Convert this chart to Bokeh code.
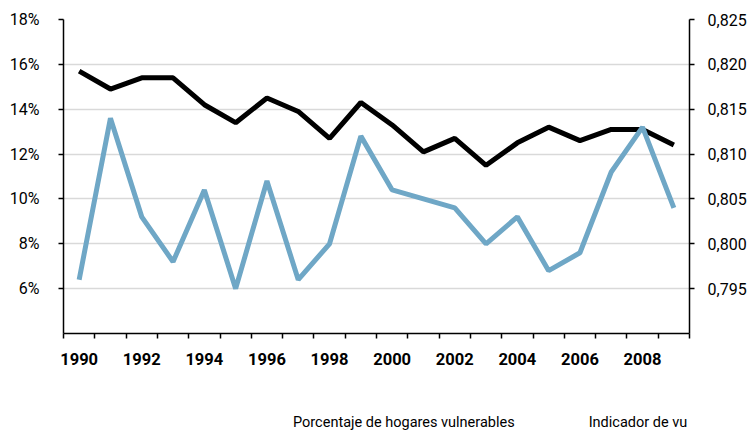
from bokeh.plotting import figure
from bokeh.layouts import column
from bokeh.models import (Range1d, LinearAxis, FixedTicker, CustomJSTickFormatter,
                          Legend, LegendItem)
from bokeh.embed import file_html
from bokeh.resources import INLINE

years = list(range(1990, 2010))
hogares_pct = [15.7, 14.9, 15.4, 15.4, 14.2, 13.4, 14.5, 13.9, 12.7, 14.3,
               13.3, 12.1, 12.7, 11.5, 12.5, 13.2, 12.6, 13.1, 13.1, 12.4]
indicador = [0.796, 0.814, 0.803, 0.798, 0.806, 0.795, 0.807, 0.796, 0.800, 0.812,
             0.806, 0.805, 0.804, 0.800, 0.803, 0.797, 0.799, 0.808, 0.813, 0.804]
left_ticks = [6, 8, 10, 12, 14, 16, 18]
right_ticks = [0.795, 0.800, 0.805, 0.810, 0.815, 0.820, 0.825]
year_labels = [y for y in years if y % 2 == 0]
series_names = ["Porcentaje de hogares vulnerables", "Indicador de vulnerabilidad"]

FONT = "Roboto"
BLUE = "#6fa7c6"

p = figure(width=747, height=375, frame_width=626, frame_height=314,
           output_backend="svg", toolbar_location=None,
           x_range=Range1d(years[0] - 0.5, years[-1] + 0.5),
           y_range=Range1d(4.0, 18.0),
           min_border_left=63, min_border_right=58, min_border_top=19,
           min_border_bottom=42)
p.outline_line_color = None
p.background_fill_color = "white"
p.extra_y_ranges = {"vi": Range1d(0.790, 0.825)}

xa = p.xaxis[0]
xa.ticker = FixedTicker(ticks=year_labels,
                        minor_ticks=[y - 0.5 for y in years] + [years[-1] + 0.5])
xa.major_tick_line_color = None
xa.major_tick_out = 0
xa.major_tick_in = 0
xa.minor_tick_line_color = "black"
xa.minor_tick_line_width = 1.5
xa.minor_tick_out = 5
xa.minor_tick_in = 0
xa.axis_line_color = "black"
xa.axis_line_width = 1.5
xa.major_label_standoff = 14
xa.major_label_text_font = FONT
xa.major_label_text_font_style = "bold"
xa.major_label_text_font_size = "16.5px"
xa.major_label_text_color = "black"

ya = p.yaxis[0]
ya.ticker = FixedTicker(ticks=left_ticks)
ya.formatter = CustomJSTickFormatter(code="return tick.toFixed(0) + '%';")
ya.minor_tick_line_color = None
ya.major_tick_out = 5
ya.major_tick_in = 0
ya.major_tick_line_width = 1.5
ya.axis_line_width = 1.5
ya.major_label_standoff = 19
ya.major_label_text_font = FONT
ya.major_label_text_font_size = "16px"
ya.major_label_text_color = "black"

ra = LinearAxis(y_range_name="vi", ticker=FixedTicker(ticks=right_ticks),
                formatter=CustomJSTickFormatter(code="return tick.toFixed(3).replace('.', ',');"))
ra.minor_tick_line_color = None
ra.major_tick_out = 5
ra.major_tick_in = 0
ra.major_tick_line_width = 1.5
ra.axis_line_width = 1.5
ra.major_label_standoff = 13
ra.major_label_text_font = FONT
ra.major_label_text_font_size = "16px"
ra.major_label_text_color = "black"
p.add_layout(ra, "right")

p.xgrid.grid_line_color = None
p.ygrid.ticker = FixedTicker(ticks=left_ticks)
p.ygrid.grid_line_color = "#d9d9d9"
p.ygrid.grid_line_width = 1.5

p.line(years, hogares_pct, line_color="black", line_width=5)
p.line(years, indicador, y_range_name="vi", line_color=BLUE, line_width=5)

# legend strip below the chart
lg = figure(width=747, height=58, output_backend="svg", toolbar_location=None,
            x_axis_type=None, y_axis_type=None, min_border=0,
            x_range=Range1d(0, 1), y_range=Range1d(0, 1))
lg.outline_line_color = None
lg.background_fill_color = "white"
lg1 = lg.line(x=[], y=[], line_color="black", line_width=5)
lg2 = lg.line(x=[], y=[], line_color=BLUE, line_width=5)

legend = Legend(items=[LegendItem(label=series_names[0], renderers=[lg1]),
                       LegendItem(label=series_names[1], renderers=[lg2])],
                orientation="horizontal", location=(193, 1),
                border_line_color=None, background_fill_alpha=0,
                padding=0, margin=0, spacing=37, glyph_width=32, glyph_height=20,
                label_standoff=5, label_text_font=FONT, label_text_font_size="14.5px",
                label_text_color="black")
lg.add_layout(legend, "center")

layout = column(p, lg, spacing=0)
open("out.html", "w").write(file_html(layout, INLINE))
